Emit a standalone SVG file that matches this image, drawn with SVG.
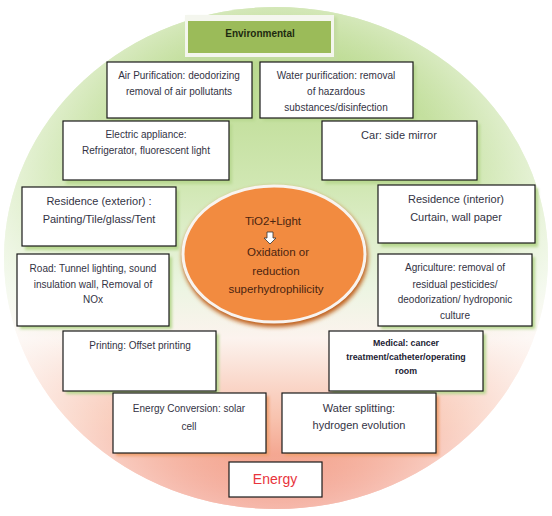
<svg xmlns="http://www.w3.org/2000/svg" width="552" height="516" viewBox="0 0 552 516">
<defs>
<linearGradient id="bg" x1="0" y1="0" x2="0" y2="1">
<stop offset="0" stop-color="#b0d47e"/>
<stop offset="0.35" stop-color="#d0e7b2"/>
<stop offset="0.56" stop-color="#ecf5e2"/>
<stop offset="0.66" stop-color="#fcf3ee"/>
<stop offset="0.82" stop-color="#f8c2ae"/>
<stop offset="1" stop-color="#ee7e66"/>
</linearGradient>
<radialGradient id="ov" cx="0.5" cy="0.5" r="0.5">
<stop offset="0.78" stop-color="#ffffff" stop-opacity="0"/>
<stop offset="1" stop-color="#ffffff" stop-opacity="0.45"/>
</radialGradient>
<filter id="blur" x="-10%" y="-10%" width="120%" height="130%"><feGaussianBlur stdDeviation="1.5"/></filter>
<filter id="eblur" x="-10%" y="-10%" width="120%" height="130%"><feGaussianBlur stdDeviation="2"/></filter>
</defs>
<style>
.box{fill:#ffffff;stroke:#1a1a1a;stroke-width:1.2}
.shg{fill:#b8d890;filter:url(#blur)}
.sho{fill:#f0a070;filter:url(#blur)}
.t{font-family:"Liberation Sans",Arial,sans-serif;font-size:10px;fill:#333344;text-anchor:middle}
.tl{font-family:"Liberation Sans",Arial,sans-serif;font-size:11px;fill:#333344;text-anchor:middle}
.tb{font-family:"Liberation Sans",Arial,sans-serif;font-size:8.8px;font-weight:bold;fill:#222233;text-anchor:middle}
.te{font-family:"Liberation Sans",Arial,sans-serif;font-size:11.5px;fill:#4a2410;text-anchor:middle}
</style>
<ellipse cx="276" cy="258" rx="272" ry="251" fill="url(#bg)"/>
<ellipse cx="276" cy="258" rx="272" ry="251" fill="url(#ov)"/>

<g id="environmental">
<rect x="187" y="17" width="150" height="43" fill="#c2dba0" filter="url(#blur)"/>
<rect x="185" y="15" width="149" height="42" fill="#f4f6ee"/>
<rect x="188" y="21" width="143" height="32" fill="#9bbb59"/>
<text x="260" y="37" style="font-family:'Liberation Sans',Arial,sans-serif;font-size:10px;font-weight:bold;fill:#1e2a10;text-anchor:middle">Environmental</text>
</g>

<g id="air">
<rect class="shg" x="110" y="65" width="145" height="56"/>
<rect class="box" x="107" y="62" width="145" height="56"/>
<text class="t" x="179" y="79">Air Purification: deodorizing</text>
<text class="t" x="179" y="95">removal of air pollutants</text>
</g>
<g id="water">
<rect class="shg" x="263" y="65" width="153" height="56"/>
<rect class="box" x="260" y="62" width="153" height="56"/>
<text class="t" x="336" y="79">Water purification: removal</text>
<text class="t" x="336" y="95">of hazardous</text>
<text class="t" x="336" y="111">substances/disinfection</text>
</g>
<g id="electric">
<rect class="shg" x="66" y="124" width="166" height="60"/>
<rect class="box" x="63" y="121" width="166" height="59"/>
<text class="t" x="146" y="138">Electric appliance:</text>
<text class="t" x="146" y="154">Refrigerator, fluorescent light</text>
</g>
<g id="car">
<rect class="shg" x="325" y="124" width="155" height="60"/>
<rect class="box" x="322" y="121" width="155" height="59"/>
<text class="tl" x="399" y="139">Car: side mirror</text>
</g>
<g id="res-ext">
<rect class="shg" x="25" y="190" width="154" height="60"/>
<rect class="box" x="22" y="187" width="154" height="59"/>
<text class="tl" x="99" y="205">Residence (exterior) :</text>
<text class="tl" x="99" y="223">Painting/Tile/glass/Tent</text>
</g>
<g id="res-int">
<rect class="shg" x="381" y="188" width="157" height="59"/>
<rect class="box" x="378" y="185" width="157" height="58"/>
<text class="tl" x="456" y="203">Residence (interior)</text>
<text class="tl" x="456" y="221">Curtain, wall paper</text>
</g>
<g id="road">
<rect class="shg" x="20" y="257" width="152" height="72"/>
<rect class="box" x="17" y="254" width="152" height="72"/>
<text class="t" x="93" y="272">Road: Tunnel lighting, sound</text>
<text class="t" x="93" y="288">insulation wall, Removal of</text>
<text class="t" x="93" y="303">NOx</text>
</g>
<g id="agri">
<rect class="shg" x="381" y="257" width="154" height="72"/>
<rect class="box" x="378" y="254" width="154" height="72"/>
<text class="t" x="455" y="271">Agriculture: removal of</text>
<text class="t" x="455" y="288">residual pesticides/</text>
<text class="t" x="455" y="303">deodorization/ hydroponic</text>
<text class="t" x="455" y="319">culture</text>
</g>
<g id="printing">
<rect class="shg" x="66" y="334" width="153" height="60"/>
<rect class="box" x="63" y="331" width="153" height="60"/>
<text class="t" x="140" y="349">Printing: Offset printing</text>
</g>
<g id="medical">
<rect class="shg" x="332" y="334" width="154" height="60"/>
<rect class="box" x="329" y="331" width="154" height="60"/>
<text class="tb" x="406" y="346">Medical: cancer</text>
<text class="tb" x="406" y="360">treatment/catheter/operating</text>
<text class="tb" x="406" y="374">room</text>
</g>
<g id="energy-conv">
<rect class="sho" x="116" y="396" width="153" height="60"/>
<rect class="box" x="113" y="393" width="153" height="60"/>
<text class="t" x="189" y="412">Energy Conversion: solar</text>
<text class="t" x="189" y="430">cell</text>
</g>
<g id="water-split">
<rect class="sho" x="285" y="396" width="154" height="60"/>
<rect class="box" x="282" y="393" width="154" height="60"/>
<text class="tl" x="359" y="412">Water splitting:</text>
<text class="tl" x="359" y="429">hydrogen evolution</text>
</g>
<g id="energy">
<rect x="229" y="462" width="93" height="35" fill="#ffffff" stroke="#1a1a1a" stroke-width="1.2"/>
<text x="275" y="484" style="font-family:'Liberation Sans',Arial,sans-serif;font-size:14px;fill:#e8343c;text-anchor:middle">Energy</text>
</g>

<g id="center">
<ellipse cx="275" cy="257" rx="93" ry="70" fill="#c0601c" filter="url(#eblur)"/>
<ellipse cx="274" cy="254" rx="91" ry="68" fill="#f28b40" stroke="#f8f4f0" stroke-width="3"/>
<text class="te" x="273" y="225">TiO2+Light</text>
<polygon points="267,232 273,232 273,238 276,238 270,244 264,238 267,238" fill="#ffffff" stroke="#333333" stroke-width="0.8"/>
<text class="te" x="278" y="256">Oxidation or</text>
<text class="te" x="276" y="275">reduction</text>
<text class="te" x="276" y="293">superhydrophilicity</text>
</g>
<g id="connectors"></g>
</svg>
